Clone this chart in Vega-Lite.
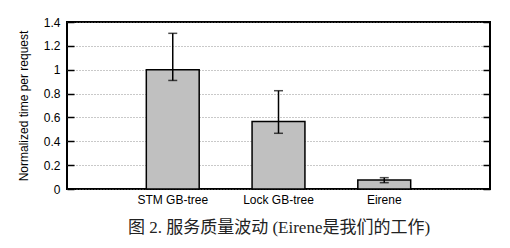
{
  "$schema": "https://vega.github.io/schema/vega-lite/v6.json",
  "width": 423,
  "height": 167,
  "autosize": "none",
  "padding": {"left": 67, "top": 22, "right": 20, "bottom": 59},
  "config": {
    "view": {"stroke": "black", "strokeWidth": 2},
    "font": "Liberation Sans"
  },
  "data": {
    "values": [
      {"name": "STM GB-tree", "value": 1.0, "lo": 0.91, "hi": 1.305},
      {"name": "Lock GB-tree", "value": 0.565, "lo": 0.467, "hi": 0.824},
      {"name": "Eirene", "value": 0.075, "lo": 0.053, "hi": 0.095}
    ]
  },
  "encoding": {
    "x": {
      "field": "name",
      "type": "nominal",
      "sort": null,
      "scale": {"paddingInner": 0.5, "paddingOuter": 0.75},
      "axis": {
        "title": "图 2. 服务质量波动 (Eirene是我们的工作)",
        "titleFont": "Liberation Serif, Noto Sans CJK SC",
        "titleFontSize": 17,
        "titleFontWeight": "normal",
        "titleColor": "#222",
        "titlePadding": 14,
        "labelAngle": 0,
        "labelFontSize": 12,
        "labelColor": "black",
        "labelPadding": 5,
        "ticks": false,
        "domain": false
      }
    }
  },
  "resolve": {"scale": {"y": "independent"}},
  "layer": [
    {
      "mark": {"type": "bar", "fill": "#c0c0c0", "stroke": "black", "strokeWidth": 1.5},
      "encoding": {
        "y": {
          "field": "value",
          "type": "quantitative",
          "scale": {"domain": [0, 1.4], "nice": false},
          "axis": {
            "title": "Normalized time per request",
            "titleFontSize": 12,
            "titleFontWeight": "normal",
            "titleColor": "black",
            "titlePadding": 13,
            "values": [0, 0.2, 0.4, 0.6, 0.8, 1, 1.2, 1.4],
            "format": "~g",
            "labelFontSize": 12,
            "labelColor": "black",
            "labelPadding": 14,
            "tickSize": -7,
            "tickColor": "black",
            "tickWidth": 1.5,
            "domain": false,
            "grid": true,
            "gridColor": "#777",
            "gridDash": [1, 2],
            "gridWidth": 0.8
          }
        }
      }
    },
    {
      "mark": {"type": "rule", "color": "black", "strokeWidth": 1.5},
      "encoding": {
        "y": {
          "field": "lo",
          "type": "quantitative",
          "scale": {"domain": [0, 1.4], "nice": false},
          "axis": {
            "orient": "right",
            "title": null,
            "labels": false,
            "values": [0, 0.2, 0.4, 0.6, 0.8, 1, 1.2, 1.4],
            "tickSize": -7,
            "tickColor": "black",
            "tickWidth": 1.5,
            "domain": false,
            "grid": false
          }
        },
        "y2": {"field": "hi"}
      }
    },
    {
      "mark": {"type": "tick", "color": "black", "orient": "horizontal", "size": 9, "thickness": 1.5},
      "encoding": {
        "y": {"field": "lo", "type": "quantitative", "scale": {"domain": [0, 1.4], "nice": false}, "axis": null}
      }
    },
    {
      "mark": {"type": "tick", "color": "black", "orient": "horizontal", "size": 9, "thickness": 1.5},
      "encoding": {
        "y": {"field": "hi", "type": "quantitative", "scale": {"domain": [0, 1.4], "nice": false}, "axis": null}
      }
    }
  ]
}
